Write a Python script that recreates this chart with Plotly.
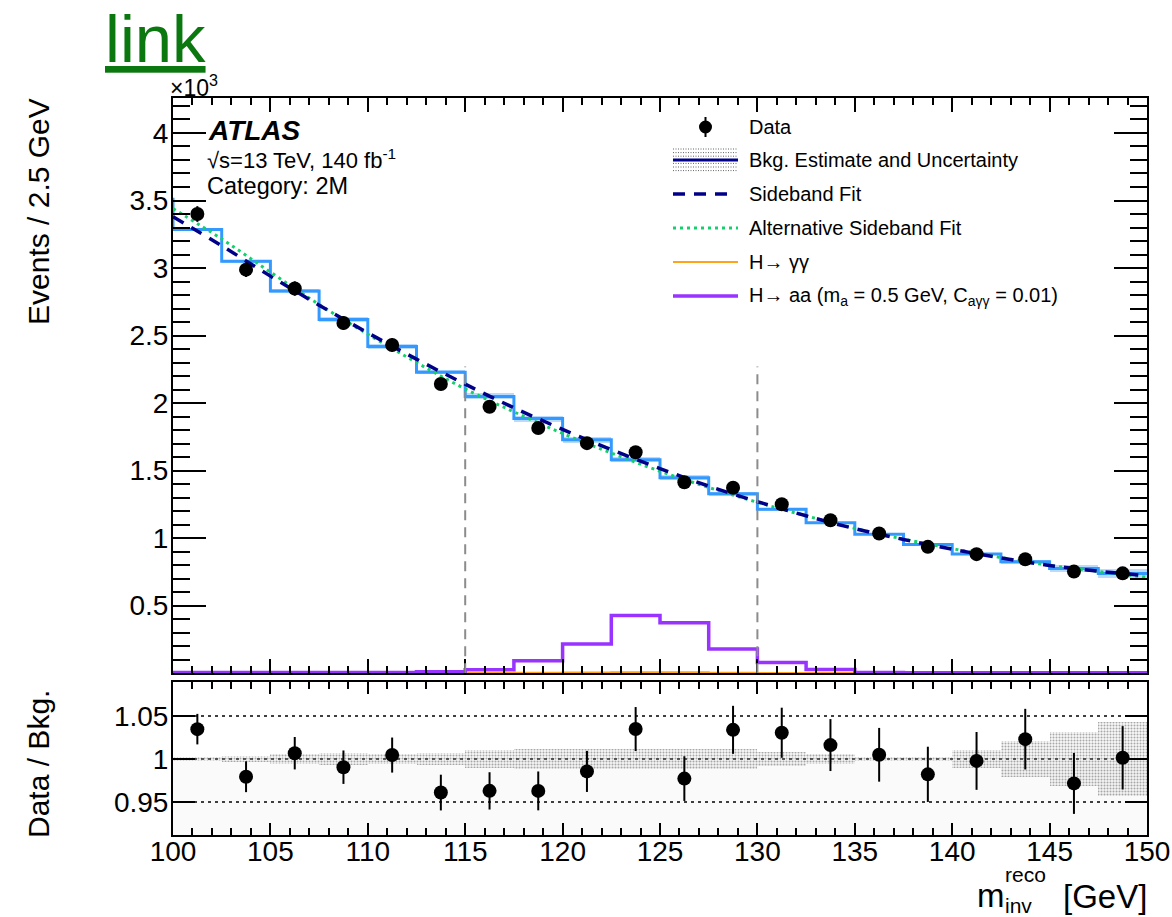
import plotly.graph_objects as go

# ---------------- data (event counts in units of 10^3) ----------------
bin_edges = [100.0, 102.5, 105.0, 107.5, 110.0, 112.5, 115.0, 117.5, 120.0, 122.5,
             125.0, 127.5, 130.0, 132.5, 135.0, 137.5, 140.0, 142.5, 145.0, 147.5, 150.0]
bin_centers = [101.25, 103.75, 106.25, 108.75, 111.25, 113.75, 116.25, 118.75, 121.25, 123.75,
               126.25, 128.75, 131.25, 133.75, 136.25, 138.75, 141.25, 143.75, 146.25, 148.75]

data_k = [3.400, 2.988, 2.848, 2.593, 2.430, 2.141, 1.973, 1.815, 1.703, 1.636,
          1.414, 1.373, 1.251, 1.132, 1.034, 0.935, 0.881, 0.843, 0.752, 0.739]

bkg_k = [3.286, 3.051, 2.829, 2.618, 2.419, 2.228, 2.049, 1.885, 1.728, 1.581,
         1.447, 1.328, 1.214, 1.114, 1.029, 0.952, 0.883, 0.824, 0.774, 0.738]
bkg_underflow_k = 3.52
bkg_rel_unc = [0.0019, 0.0037, 0.0058, 0.0070, 0.0062, 0.0074, 0.0109, 0.0120, 0.0120, 0.0120,
               0.0116, 0.0116, 0.0081, 0.0062, 0.0020, 0.0020, 0.0100, 0.0205, 0.0310, 0.0434]

# fit curves sampled at the bin edges
sideband_fit_k = [3.380, 3.165, 2.940, 2.725, 2.520, 2.325, 2.140, 1.965, 1.805, 1.655, 1.515,
                  1.385, 1.270, 1.165, 1.070, 0.990, 0.918, 0.853, 0.797, 0.755, 0.722]
alt_fit_k = [3.440, 3.215, 2.970, 2.730, 2.510, 2.300, 2.105, 1.935, 1.775, 1.630, 1.495,
             1.375, 1.265, 1.165, 1.072, 0.993, 0.922, 0.856, 0.798, 0.752, 0.710]

haa_k = [0.004, 0.004, 0.004, 0.004, 0.005, 0.010, 0.025, 0.092, 0.216, 0.426,
         0.374, 0.179, 0.079, 0.027, 0.005, 0.003, 0.002, 0.002, 0.002, 0.002]
hgg_k = [0.000, 0.000, 0.000, 0.000, 0.000, 0.001, 0.001, 0.002, 0.004, 0.007,
         0.006, 0.003, 0.001, 0.001, 0.000, 0.000, 0.000, 0.000, 0.000, 0.000]

signal_window = [115.0, 130.0]
window_line_top_k = 2.27

x_ticks = [100, 105, 110, 115, 120, 125, 130, 135, 140, 145, 150]
ratio_ticks = [0.95, 1.0, 1.05]
ratio_ticklabels = ["0.95", "1", "1.05"]

# derived quantities
data_err_k = [(d * 1000.0) ** 0.5 / 1000.0 for d in data_k]
ratio = [d / b for d, b in zip(data_k, bkg_k)]
ratio_err = [e / b for e, b in zip(data_err_k, bkg_k)]

# ---------------- page geometry ----------------
W, H = 1172, 917
FONT = "Liberation Sans"

NAVY = "#000088"
LIGHT_BLUE = "#3399ff"
GREEN = "#14d06c"
ORANGE = "#ffa31a"
PURPLE = "#9933ff"


def px(x):
    return x / W


def py(y):
    return 1 - y / H


fig = go.Figure()

# background uncertainty band in the upper panel
fig.add_trace(go.Bar(
    x=bin_centers, base=[b * (1 - u) for b, u in zip(bkg_k, bkg_rel_unc)],
    y=[2 * b * u for b, u in zip(bkg_k, bkg_rel_unc)], width=2.5,
    marker=dict(color="rgba(51,153,255,0.35)", line=dict(width=0)),
    xaxis="x", yaxis="y", showlegend=False, hoverinfo="skip"))

# background estimate (step histogram)
fig.add_trace(go.Scatter(
    x=[bin_edges[0]] + bin_edges, y=[bkg_underflow_k] + bkg_k + [bkg_k[-1]],
    mode="lines", line=dict(color=LIGHT_BLUE, width=3, shape="hv"),
    xaxis="x", yaxis="y", showlegend=False))

# signal templates
fig.add_trace(go.Scatter(
    x=bin_edges, y=hgg_k + [hgg_k[-1]], mode="lines",
    line=dict(color=ORANGE, width=2, shape="hv"),
    xaxis="x", yaxis="y", showlegend=False))
fig.add_trace(go.Scatter(
    x=bin_edges, y=haa_k + [haa_k[-1]], mode="lines",
    line=dict(color=PURPLE, width=3.5, shape="hv"),
    xaxis="x", yaxis="y", showlegend=False))

# fits
fig.add_trace(go.Scatter(
    x=bin_edges, y=alt_fit_k, mode="lines",
    line=dict(color=GREEN, width=3, dash="3px,4px", shape="spline"),
    xaxis="x", yaxis="y", showlegend=False))
fig.add_trace(go.Scatter(
    x=bin_edges, y=sideband_fit_k, mode="lines",
    line=dict(color=NAVY, width=3.5, dash="12px,9px", shape="spline"),
    xaxis="x", yaxis="y", showlegend=False))

# data
fig.add_trace(go.Scatter(
    x=bin_centers, y=data_k, mode="markers",
    marker=dict(color="black", size=14),
    error_y=dict(type="data", array=data_err_k, color="black", thickness=2, width=0),
    xaxis="x", yaxis="y", showlegend=False))

# ---------------- ratio panel ----------------
fig.add_trace(go.Bar(
    x=bin_centers, base=[1 - u for u in bkg_rel_unc], y=[2 * u for u in bkg_rel_unc],
    width=2.5,
    marker=dict(color="rgba(0,0,0,0)", line=dict(width=0),
                pattern=dict(shape=".", fgcolor="rgba(50,50,50,0.8)",
                             bgcolor="rgba(215,215,215,0.2)", size=3, solidity=0.35)),
    xaxis="x2", yaxis="y2", showlegend=False, hoverinfo="skip"))

fig.add_trace(go.Scatter(
    x=bin_centers, y=ratio, mode="markers",
    marker=dict(color="black", size=14),
    error_y=dict(type="data", array=ratio_err, color="black", thickness=2, width=0),
    xaxis="x2", yaxis="y2", showlegend=False))

shapes = []
# signal-window markers
for xw in signal_window:
    shapes.append(dict(type="line", xref="x", yref="y", x0=xw, x1=xw, y0=0, y1=window_line_top_k,
                       line=dict(color="#8c8c8c", width=2, dash="10px,7px")))
# faint fill below unity in the ratio panel
shapes.append(dict(type="rect", xref="x2", yref="y2", x0=100, x1=150, y0=0.9, y1=1.0,
                   fillcolor="rgba(0,0,0,0.018)", line=dict(width=0), layer="below"))
# reference lines in the ratio panel
for yr in ratio_ticks:
    shapes.append(dict(type="line", xref="x2", yref="y2", x0=100, x1=150, y0=yr, y1=yr,
                       line=dict(color="black", width=1.5, dash="3px,4px"), layer="below"))

# ---------------- hand-drawn legend ----------------
lx0, lx1 = 673, 738
rows = [127, 160, 194, 228, 262, 296]
# Data: marker with error bar
shapes.append(dict(type="line", xref="paper", yref="paper", x0=px(705.5), x1=px(705.5),
                   y0=py(rows[0] - 10), y1=py(rows[0] + 10), line=dict(color="black", width=2)))
shapes.append(dict(type="circle", xref="paper", yref="paper", x0=px(699), x1=px(712),
                   y0=py(rows[0] - 6.5), y1=py(rows[0] + 6.5), fillcolor="black",
                   line=dict(color="black", width=0)))
# Bkg estimate: dotted box with a line through it
for k in range(7):
    yy = rows[1] - 11 + k * 3.6
    shapes.append(dict(type="line", xref="paper", yref="paper", x0=px(lx0), x1=px(lx1),
                       y0=py(yy), y1=py(yy),
                       line=dict(color="rgba(60,60,60,0.8)", width=1, dash="1px,1.5px")))
shapes.append(dict(type="line", xref="paper", yref="paper", x0=px(lx0), x1=px(lx1),
                   y0=py(rows[1]), y1=py(rows[1]), line=dict(color=NAVY, width=3)))
# Sideband fit
shapes.append(dict(type="line", xref="paper", yref="paper", x0=px(lx0), x1=px(lx1 - 6),
                   y0=py(rows[2]), y1=py(rows[2]),
                   line=dict(color=NAVY, width=3.5, dash="12px,9px")))
# Alternative fit
shapes.append(dict(type="line", xref="paper", yref="paper", x0=px(lx0), x1=px(lx1),
                   y0=py(rows[3]), y1=py(rows[3]),
                   line=dict(color=GREEN, width=3, dash="3px,4px")))
# H -> gamma gamma
shapes.append(dict(type="line", xref="paper", yref="paper", x0=px(lx0), x1=px(lx1),
                   y0=py(rows[4]), y1=py(rows[4]), line=dict(color=ORANGE, width=2)))
# H -> aa
shapes.append(dict(type="line", xref="paper", yref="paper", x0=px(lx0), x1=px(lx1),
                   y0=py(rows[5]), y1=py(rows[5]), line=dict(color=PURPLE, width=3.5)))

legend_labels = [
    "Data",
    "Bkg. Estimate and Uncertainty",
    "Sideband Fit",
    "Alternative Sideband Fit",
    "H\u2192 \u03b3\u03b3",
    "H\u2192 aa (m<sub>a</sub> = 0.5 GeV, C<sub>a\u03b3\u03b3</sub> = 0.01)",
]

annotations = []
for lab, ry in zip(legend_labels, rows):
    annotations.append(dict(xref="paper", yref="paper", x=px(747), y=py(ry), text=lab,
                            xanchor="left", yanchor="middle", showarrow=False,
                            font=dict(family=FONT, size=20, color="black")))

# ATLAS label block
annotations += [
    dict(xref="paper", yref="paper", x=px(206), y=py(131), text="<b><i>ATLAS</i></b>",
         xanchor="left", yanchor="middle", showarrow=False,
         font=dict(family=FONT, size=28, color="black")),
    dict(xref="paper", yref="paper", x=px(205), y=py(159),
         text="\u221as=13 TeV, 140 fb<sup>-1</sup>",
         xanchor="left", yanchor="middle", showarrow=False,
         font=dict(family=FONT, size=22, color="black")),
    dict(xref="paper", yref="paper", x=px(205), y=py(186), text="Category: 2M",
         xanchor="left", yanchor="middle", showarrow=False,
         font=dict(family=FONT, size=23.5, color="black")),
    # exponent of the y axis
    dict(xref="paper", yref="paper", x=px(168), y=py(86), text="\u00d710<sup>3</sup>",
         xanchor="left", yanchor="middle", showarrow=False,
         font=dict(family=FONT, size=23, color="black")),
    # axis titles
    dict(xref="paper", yref="paper", x=px(38), y=py(212), text="Events / 2.5 GeV",
         textangle=-90, xanchor="center", yanchor="middle", showarrow=False,
         font=dict(family=FONT, size=30, color="black")),
    dict(xref="paper", yref="paper", x=px(38), y=py(764), text="Data / Bkg.",
         textangle=-90, xanchor="center", yanchor="middle", showarrow=False,
         font=dict(family=FONT, size=30, color="black")),
    dict(xref="paper", yref="paper", x=px(1007), y=py(895), text="m",
         xanchor="right", yanchor="middle", showarrow=False,
         font=dict(family=FONT, size=33, color="black")),
    dict(xref="paper", yref="paper", x=px(1003), y=py(874), text="reco",
         xanchor="left", yanchor="middle", showarrow=False,
         font=dict(family=FONT, size=21, color="black")),
    dict(xref="paper", yref="paper", x=px(1003), y=py(905), text="inv",
         xanchor="left", yanchor="middle", showarrow=False,
         font=dict(family=FONT, size=21, color="black")),
    dict(xref="paper", yref="paper", x=px(1149), y=py(896), text="[GeV]",
         xanchor="right", yanchor="middle", showarrow=False,
         font=dict(family=FONT, size=33, color="black")),
    # link text above the plot
    dict(xref="paper", yref="paper", x=px(103), y=py(38), text="<u>link</u>",
         xanchor="left", yanchor="middle", showarrow=False,
         font=dict(family=FONT, size=67, color="#0b780f")),
]

axis_common = dict(showline=True, linecolor="black", linewidth=2, mirror="ticks",
                   ticks="inside", tickcolor="black", tickwidth=2, showgrid=False,
                   zeroline=False, automargin=False,
                   tickfont=dict(family=FONT, size=28, color="black"))

fig.update_layout(
    width=W, height=H, autosize=False,
    margin=dict(l=0, r=0, t=0, b=0, autoexpand=False),
    paper_bgcolor="white", plot_bgcolor="white",
    barmode="overlay", bargap=0,
    showlegend=False,
    shapes=shapes, annotations=annotations,
    xaxis=dict(domain=[px(173), px(1147)], range=[100, 150], anchor="y",
               showticklabels=False, tickmode="array", tickvals=x_ticks, ticklen=14,
               minor=dict(dtick=1, tick0=100, ticklen=7, ticks="inside", tickwidth=1.5,
                          tickcolor="black"),
               **axis_common),
    yaxis=dict(domain=[py(673), py(98)], range=[0.001, 4.259], anchor="x",
               tickmode="linear", tick0=0, dtick=0.5, ticklen=33, ticklabelstandoff=-3,
               minor=dict(dtick=0.1, tick0=0, ticklen=17, ticks="inside", tickwidth=1.5,
                          tickcolor="black"),
               **axis_common),
    xaxis2=dict(domain=[px(173), px(1147)], range=[100, 150], anchor="y2",
                tickmode="array", tickvals=x_ticks, ticklen=12, ticklabelstandoff=-10,
                minor=dict(dtick=1, tick0=100, ticklen=7, ticks="inside", tickwidth=1.5,
                           tickcolor="black"),
                **axis_common),
    yaxis2=dict(domain=[py(835), py(682)], range=[0.9116, 1.0895], anchor="x2",
                tickmode="array", tickvals=ratio_ticks, ticktext=ratio_ticklabels,
                ticklen=22, ticklabelstandoff=-3, **axis_common),
)

fig.write_html("out.html")
